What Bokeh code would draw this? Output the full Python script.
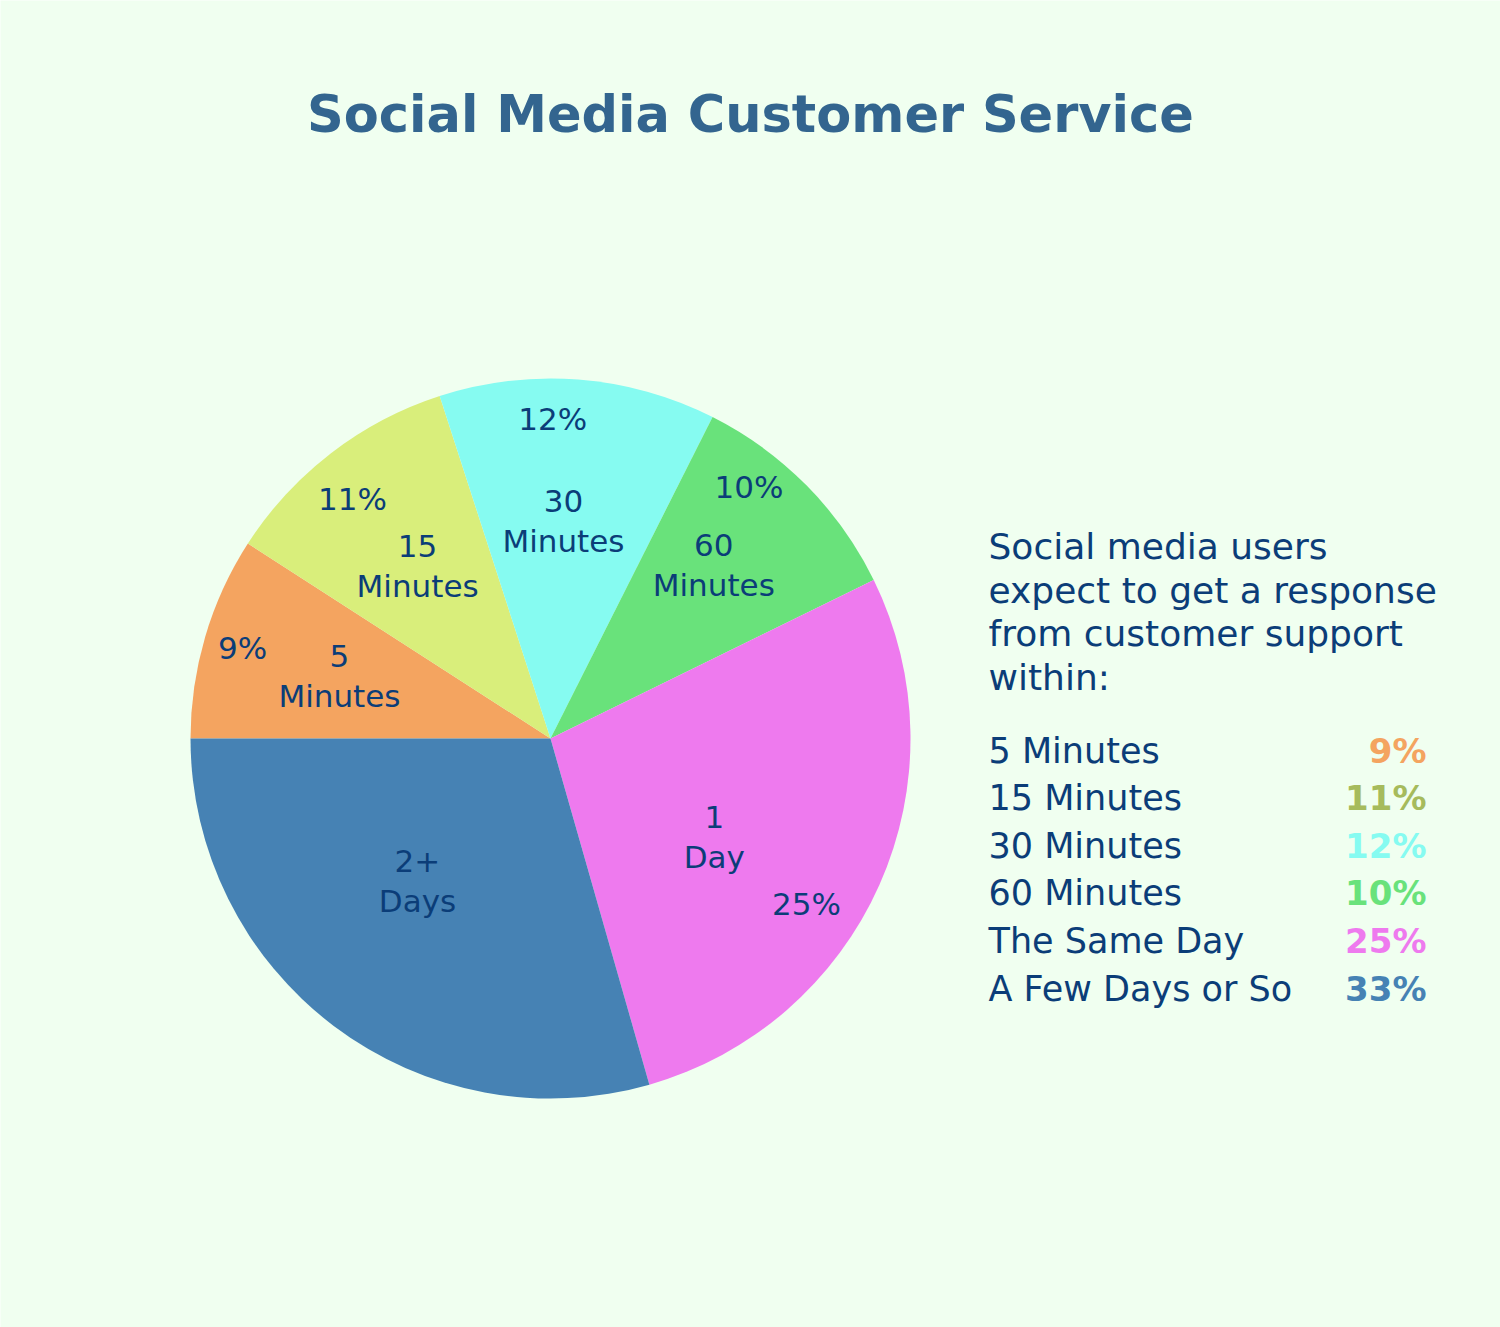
import numpy as np
from bokeh.plotting import figure
from bokeh.models import Range1d, ColumnDataSource
from bokeh.core.properties import value
from bokeh.embed import file_html
from bokeh.resources import INLINE

# ---------------- data ----------------
title_text = "Social Media Customer Service"
slice_names = ["5\nMinutes", "15\nMinutes", "30\nMinutes", "60\nMinutes", "1\nDay", "2+\nDays"]
slice_values = [9.1, 10.9, 12.4, 10.3, 27.8, 29.4]
slice_pct_labels = ["9%", "11%", "12%", "10%", "25%", ""]
slice_colors = ["#F4A460", "#D9EE7B", "#86FBF1", "#69E27B", "#EE7AEE", "#4682B4"]

legend_header = ["Social media users", "expect to get a response",
                 "from customer support", "within:"]
legend_items = ["5 Minutes", "15 Minutes", "30 Minutes", "60 Minutes",
                "The Same Day", "A Few Days or So"]
legend_pcts = [9, 11, 12, 10, 25, 33]
legend_pct_colors = ["#F4A460", "#A6BB5C", "#86FBF1", "#69E27B", "#EE7AEE", "#4682B4"]

# ---------------- style / layout ----------------
BG = "#F0FFF0"
NAVY = "#0B3D78"
TITLE_COLOR = "#33658F"
FONT = "DejaVu Sans"

# label placement inside slices (radius px, angular offset deg from slice middle)
LABEL_R = [220, 218, 218, 238, 191, 195]
LABEL_DA = [0, 0, 1, 2, -7, -6]
PCT_R = [321, 311, 320, 320, 305, 300]
PCT_DA = [0, 2, 4, 7, -9, 0]

W, H = 1500, 1327


def sy(y):
    """page y (px, downward) -> data y"""
    return H - y


p = figure(width=W, height=H, x_range=Range1d(0, W), y_range=Range1d(0, H),
           output_backend="svg", toolbar_location=None, min_border=0,
           background_fill_color=BG, border_fill_color=BG, outline_line_color=None)
p.axis.visible = False
p.grid.visible = False

# ---------------- pie ----------------
cx, cy, R = 550, sy(738), 360
vals = np.array(slice_values, dtype=float)
frac = vals / vals.sum()
cum = np.concatenate([[0], np.cumsum(frac)])
start = np.pi - 2 * np.pi * cum[:-1]
end = np.pi - 2 * np.pi * cum[1:]
mid = (start + end) / 2

src = ColumnDataSource(dict(start=start, end=end, color=slice_colors))
p.wedge(x=cx, y=cy, radius=R, radius_units="screen", start_angle="start", end_angle="end",
        direction="clock", fill_color="color", line_color=None, source=src)

gap = 20
lx_, ly_, lt_ = [], [], []
for ang, name, rr, da in zip(mid, slice_names, LABEL_R, LABEL_DA):
    lines = name.split("\n")
    a = ang + np.radians(da)
    bx, by = cx + rr * np.cos(a), cy + rr * np.sin(a)
    n = len(lines)
    for k, ln in enumerate(lines):
        lx_.append(bx)
        ly_.append(by + gap * (n - 1) - 2 * gap * k)
        lt_.append(ln)
p.text(x=lx_, y=ly_, text=lt_, text_align="center", text_baseline="middle",
       text_font=value(FONT), text_font_size="31px", text_color=NAVY)

pa = mid + np.radians(PCT_DA)
pct_src = ColumnDataSource(dict(
    x=cx + np.array(PCT_R) * np.cos(pa), y=cy + np.array(PCT_R) * np.sin(pa),
    t=slice_pct_labels))
p.text(x="x", y="y", text="t", source=pct_src, text_align="center", text_baseline="middle",
       text_font=value(FONT), text_font_size="31px", text_color=NAVY)

# ---------------- title ----------------
p.text(x=[750], y=[sy(114)], text=[title_text], text_align="center", text_baseline="middle",
       text_font=value(FONT), text_font_size="51px", text_font_style="bold",
       text_color=TITLE_COLOR)

# ---------------- legend block ----------------
lx = 988
hdr_y = [sy(546 + 43.7 * i) for i in range(len(legend_header))]
p.text(x=[lx] * len(legend_header), y=hdr_y, text=legend_header, text_align="left",
       text_baseline="middle", text_font=value(FONT), text_font_size="36px", text_color=NAVY)

item_y = [sy(750 + 47.6 * i) for i in range(len(legend_items))]
p.text(x=[lx] * len(legend_items), y=item_y, text=legend_items, text_align="left",
       text_baseline="middle", text_font=value(FONT), text_font_size="35px", text_color=NAVY)

pct_src2 = ColumnDataSource(dict(x=[1426] * len(legend_pcts), y=item_y,
                                 t=[f"{v}%" for v in legend_pcts], c=legend_pct_colors))
p.text(x="x", y="y", text="t", source=pct_src2, text_align="right", text_baseline="middle",
       text_font=value(FONT), text_font_size="34px", text_font_style="bold", text_color="c")

open("out.html", "w").write(file_html(p, INLINE))
